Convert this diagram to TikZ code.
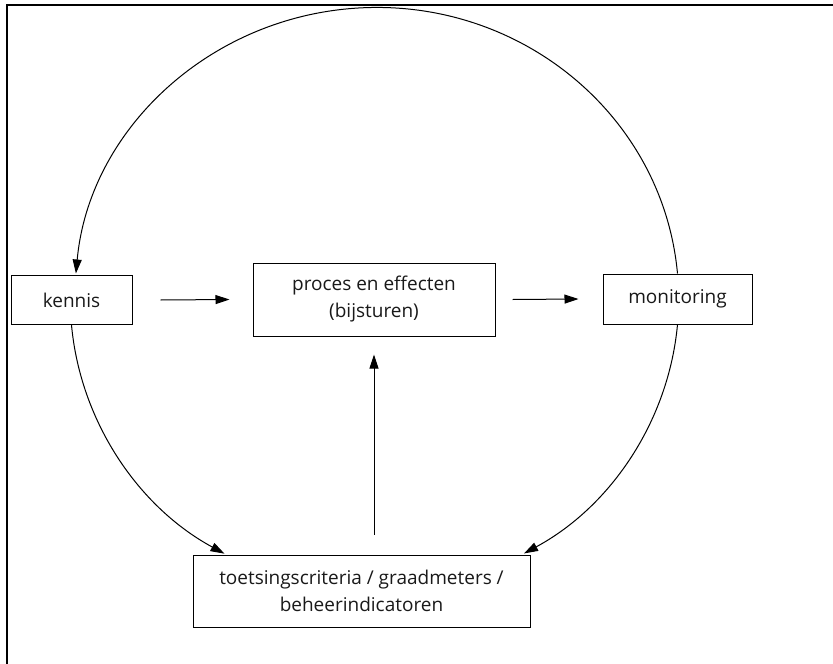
\documentclass[tikz,border=0pt]{standalone}
\usepackage{fontspec}
\setmainfont{Open Sans}
\usetikzlibrary{arrows.meta}
\begin{document}
\begin{tikzpicture}[x=1pt,y=-1pt,
  box/.style={draw, line width=1pt, minimum width=#1, inner sep=0pt, align=center,
    font=\fontsize{19}{27}\selectfont, text=black!90},
  conn/.style={line width=1pt, -{Triangle[length=14pt,width=9pt]}},
  frame/.style={line width=1.5pt}]
\useasboundingbox (0,0) rectangle (833,664);
\draw[frame] (7,664) -- (7,5) -- (833,5);
\node[box=121pt, minimum height=49pt] (ken) at (71.5,300) {kennis};
\node[box=242pt, minimum height=73pt] (proc) at (374,299.5) {proces en effecten\\(bijsturen)};
\node[box=149pt, minimum height=50pt] (mon) at (677.5,299) {monitoring};
\node[box=337pt, minimum height=72pt] (bot) at (361.5,591) {toetsingscriteria / graadmeters /\\beheerindicatoren};
\draw[conn] ([xshift=28pt]ken.east) -- ([xshift=-23pt]proc.west);
\draw[conn] ([xshift=17pt]proc.east) -- ([xshift=-24pt]mon.west);
\draw[conn] ([yshift=20pt]bot.north -| proc.south) -- ([yshift=-18pt]proc.south);
\draw[conn] (mon.north) arc[start angle=-5.1, end angle=-174.9, x radius=302, y radius=292];
\draw[conn] (ken.south) arc[start angle=174.9, end angle=119.3, x radius=302, y radius=292];
\draw[conn] (mon.south) arc[start angle=5.1, end angle=60.8, x radius=302, y radius=292];
\end{tikzpicture}
\end{document}
